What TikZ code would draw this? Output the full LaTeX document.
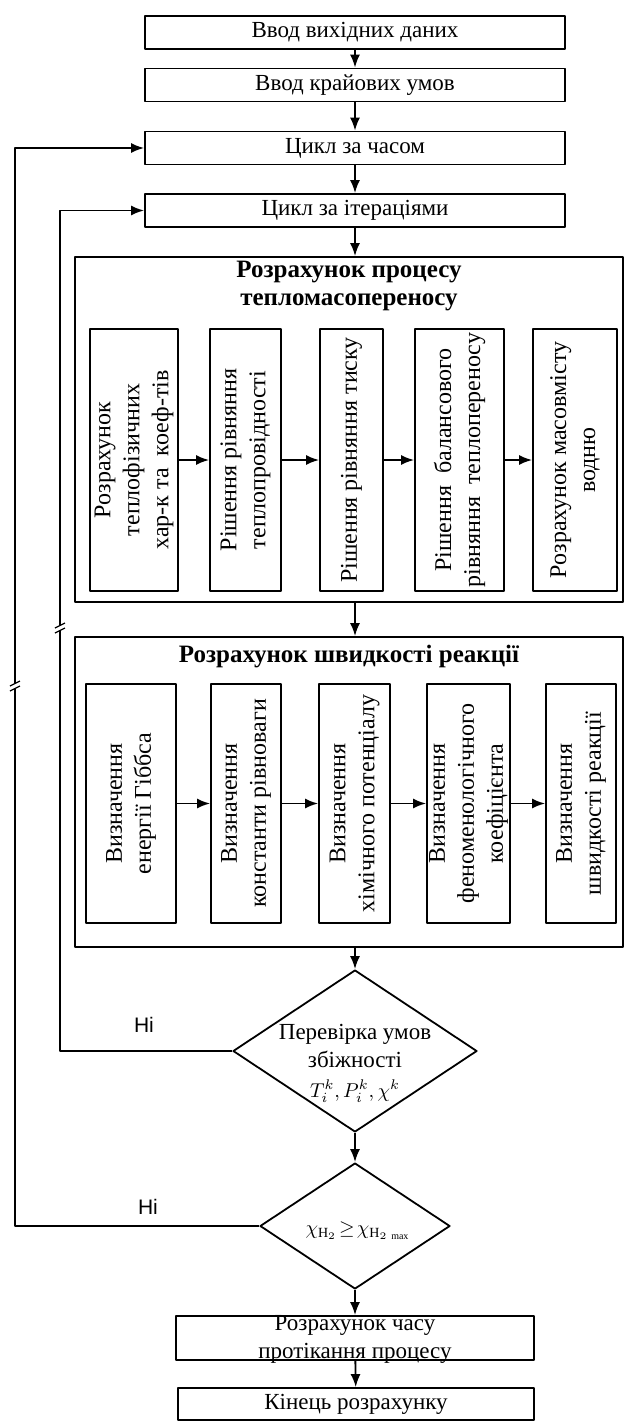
\documentclass[tikz,border=0pt]{standalone}
\usepackage{fontspec}
\setmainfont{Liberation Serif}
\newfontfamily\nofont{Liberation Sans}
\usetikzlibrary{arrows.meta,shapes.geometric}
\begin{document}
\begin{tikzpicture}[x=0.5pt, y=-0.5pt, line width=0.9pt, line join=round,
  box/.style={draw, minimum width=210pt, minimum height=16.5pt, inner sep=0pt, font=\fontsize{11.5}{14}\selectfont},
  frame/.style={draw, minimum width=274pt, inner sep=0pt},
  vbox/.style={draw, rotate=90, align=center, inner sep=0pt, font=\fontsize{12}{14.5}\selectfont},
  title/.style={font=\fontsize{12.5}{14}\selectfont\bfseries, align=center},
  cond/.style={draw, diamond, inner sep=0pt},
  txt/.style={font=\fontsize{11.5}{14}\selectfont, align=center},
  nolabel/.style={font=\nofont\fontsize{10.5}{12}\selectfont},
  arr/.style={-{Latex[length=6.5pt,width=5pt]}}]

\useasboundingbox (0,0) rectangle (625,1423);

\node (input) [box] at (355,32.5) {Ввод вихідних даних};
\node (bound) [box] at (355,85) {Ввод крайових умов};
\node (time) [box] at (355,148) {Цикл за часом};
\node (iter) [box] at (355,210.5) {Цикл за ітераціями};

\node (heat) [frame, minimum height=172.5pt] at (349,429.5) {};
\node (heattitle) [title] at (349,286) {Розрахунок процесу\\тепломасопереносу};
\node (h1) [vbox, minimum width=131pt, minimum height=44pt] at (134,460) {Розрахунок\\теплофізичних\\хар-к та\ \ коеф-тів};
\node (h2) [vbox, minimum width=131pt, minimum height=35.5pt] at (245.5,460) {Рішення рівняння\\теплопровідності};
\node (h3) [vbox, minimum width=131pt, minimum height=31.5pt] at (351.5,460) {Рішення рівняння тиску};
\node (h4) [vbox, minimum width=131pt, minimum height=44.5pt] at (459.5,460) {Рішення\ \ балансового\\рівняння\ \ теплопереносу};
\node (h5) [vbox, minimum width=131pt, minimum height=42pt] at (575,460) {Розрахунок масовмісту\\водню};

\node (rate) [frame, minimum height=155pt] at (349,792) {};
\node (ratetitle) [title] at (349,657) {Розрахунок швидкості реакції};
\node (r1) [vbox, minimum width=119.5pt, minimum height=45pt] at (131,803.5) {Визначення\\енергії Гіббса};
\node (r2) [vbox, minimum width=119.5pt, minimum height=35pt] at (246,803.5) {Визначення\\константи рівноваги};
\node (r3) [vbox, minimum width=119.5pt, minimum height=35.5pt] at (354.5,803.5) {Визначення\\хімічного потенціалу};
\node (r4) [vbox, minimum width=119.5pt, minimum height=41.5pt] at (468.5,803.5) {Визначення\\феноменологічного\\коефіцієнта};
\node (r5) [vbox, minimum width=119.5pt, minimum height=35pt] at (581,803.5) {Визначення\\швидкості реакції};

\node (check) [cond, minimum width=122pt, minimum height=81pt] at (355,1051) {};
\node (checktext) [txt] at (355,1063) {Перевірка умов\\збіжності\\[1pt]{\fontsize{10}{12}\selectfont$T^{k}_{i},P^{k}_{i},\chi^{k}$}};
\node (limit) [cond, minimum width=95pt, minimum height=63pt] at (355,1226) {};
\node (limittext) [txt, font=\fontsize{10}{12}\selectfont] at (358,1231) {$\chi_{\mathrm{H}_2}\!\geq\!\chi_{\mathrm{H}_{2\,\max}}$};

\node (calc) [draw, minimum width=179pt, minimum height=22pt, inner sep=0pt] at (355,1338) {};
\node (calctext) [txt] at (355,1339) {Розрахунок часу\\протікання процесу};
\node (finish) [box, minimum width=178pt, minimum height=16pt] at (356,1404) {Кінець розрахунку};

\node (no1) [nolabel] at (144,1025) {Ні};
\node (no2) [nolabel] at (148,1207) {Ні};

\coordinate (iterx) at (60,0);
\coordinate (timex) at (15,0);
\coordinate (iterjump) at (60,628);
\coordinate (timejump) at (15,686);

\draw[arr] (input) -- (bound);
\draw[arr] (bound) -- (time);
\draw[arr] (time) -- (iter);
\draw[arr] (iter.south) -- (iter.south |- heat.north);
\draw[arr] (h1) -- (h2);
\draw[arr] (h2) -- (h3);
\draw[arr] (h3) -- (h4);
\draw[arr] (h4) -- (h5);
\draw[arr] (heat.south -| iter) -- (rate.north -| iter);
\draw[arr] (r1) -- (r2);
\draw[arr] (r2) -- (r3);
\draw[arr] (r3) -- (r4);
\draw[arr] (r4) -- (r5);
\draw[arr] (rate.south -| check) -- (check.north);
\draw[arr] (check) -- (limit);
\draw[arr] (limit) -- (calc);
\draw[arr] (calc) -- (finish);
\draw[arr] (check.west) -- (check.west -| iterx) |- (iter.west);
\draw[arr] (limit.west) -- (limit.west -| timex) |- (time.west);

\fill[white] (iterjump) ++(-5,-3) rectangle ++(10,6);
\draw[line width=0.6pt] (iterjump) ++(-5,0) -- ++(10,-5);
\draw[line width=0.6pt] (iterjump) ++(-5,5) -- ++(10,-5);
\fill[white] (timejump) ++(-5,-3) rectangle ++(10,6);
\draw[line width=0.6pt] (timejump) ++(-5,0) -- ++(10,-5);
\draw[line width=0.6pt] (timejump) ++(-5,5) -- ++(10,-5);
\end{tikzpicture}
\end{document}
